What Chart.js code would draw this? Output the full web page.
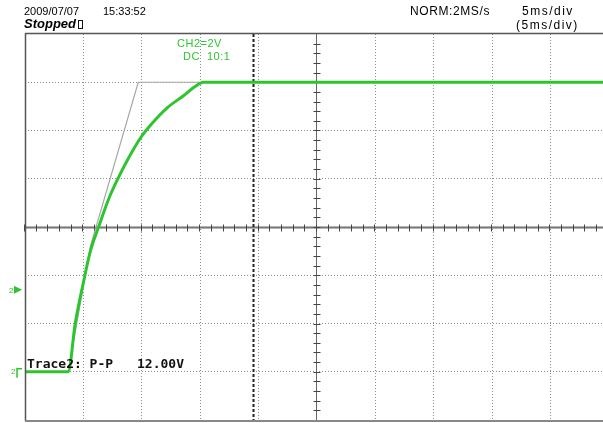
<!DOCTYPE html>
<html lang="en">
<head>
<meta charset="UTF-8">
<title>CH2 step response</title>
<script src="https://cdn.jsdelivr.net/npm/chart.js"></script>
<style>
  html, body { margin: 0; padding: 0; background: #fff; overflow: hidden; }
  canvas { display: block; }
</style>
</head>
<body>
<canvas id="scope" width="603" height="423"></canvas>
<script>
// CH2 trace: time in ms (5 ms/div, 0 = screen centre), volts (2 V/div)
const traceTime  = [-25, -21.3, -20.7, -20.0, -19.4, -18.7, -17.8, -17.0, -16.2, -15.1, -14.2, -12.8, -11.4, -10.5, -9.7, 25];
const traceVolts = [0, 0, 2.0, 3.7, 5.0, 6.0, 7.2, 8.05, 8.8, 9.7, 10.25, 10.95, 11.45, 11.8, 12.0, 12.0];
// grey reference ramp
const refTime  = [-21.3, -19.4, -15.3, 25];
const refVolts = [0, 5.2, 12, 12];
// division lines
const timeTicks = [-25, -20, -15, -10, -5, 0, 5, 10, 15, 20];
const voltTicks = [-2, 0, 2, 4, 6, 8, 10, 12, 14];
const cursorTime = -5.5;
const trigLevel = 3.4;
const groundLevel = 0;

const GREEN = '#2ec42e';
const GRID = '#8c8c8c';

function pts(xs, ys) { return xs.map((x, i) => ({ x: x, y: ys[i] })); }

const scopeDecor = {
    id: 'scopeDecor',
    beforeDatasetsDraw(chart) {
        const { ctx, chartArea: a, scales: { x, y } } = chart;
        const x0 = Math.round(x.getPixelForValue(0)) - 0.5;
        const y0 = Math.round(y.getPixelForValue(6)) + 0.5;
        ctx.save();
        // centre horizontal axis
        ctx.strokeStyle = '#b4b4b4';
        ctx.lineWidth = 3;
        ctx.beginPath(); ctx.moveTo(a.left, y0); ctx.lineTo(a.right, y0); ctx.stroke();
        ctx.strokeStyle = '#777';
        ctx.lineWidth = 1;
        ctx.beginPath(); ctx.moveTo(a.left, y0); ctx.lineTo(a.right, y0); ctx.stroke();
        // centre vertical axis
        ctx.strokeStyle = '#666';
        ctx.beginPath(); ctx.moveTo(x0, a.top); ctx.lineTo(x0, a.bottom); ctx.stroke();
        // minor ticks
        ctx.strokeStyle = '#444';
        ctx.beginPath();
        for (let t = -25; t <= 25; t += 1) {
            const px = Math.round(x.getPixelForValue(t)) - 0.5;
            ctx.moveTo(px, y0 - 3); ctx.lineTo(px, y0 + 4);
        }
        for (let v = -2; v <= 14; v += 0.4) {
            const py = Math.round(y.getPixelForValue(v)) + 0.5;
            ctx.moveTo(x0 - 3, py); ctx.lineTo(x0 + 4, py);
        }
        ctx.stroke();
        // time cursor
        const xc = Math.round(x.getPixelForValue(cursorTime)) + 0.5;
        ctx.strokeStyle = '#222';
        ctx.lineWidth = 2;
        ctx.setLineDash([3, 2]);
        ctx.beginPath(); ctx.moveTo(xc, a.top); ctx.lineTo(xc, a.bottom); ctx.stroke();
        ctx.restore();
    },
    afterDraw(chart) {
        const { ctx, chartArea: a, scales: { y } } = chart;
        ctx.save();
        // frame
        ctx.strokeStyle = '#555';
        ctx.lineWidth = 1.5;
        ctx.beginPath();
        ctx.moveTo(a.left + 0.5, a.top - 1); ctx.lineTo(a.left + 0.5, a.bottom + 1);
        ctx.moveTo(a.left, a.top - 0.5); ctx.lineTo(a.right, a.top - 0.5);
        ctx.stroke();
        ctx.strokeStyle = '#888';
        ctx.lineWidth = 2;
        ctx.beginPath(); ctx.moveTo(a.left, a.bottom + 1); ctx.lineTo(a.right, a.bottom + 1); ctx.stroke();

        // header texts
        ctx.fillStyle = '#000';
        ctx.textBaseline = 'alphabetic';
        ctx.font = '11px "Liberation Sans"';
        ctx.fillText('2009/07/07', 24, 15);
        ctx.fillText('15:33:52', 103, 15);
        ctx.font = 'italic bold 13px "Liberation Sans"';
        ctx.fillText('Stopped', 24, 28);
        ctx.lineWidth = 1;
        ctx.strokeStyle = '#111';
        ctx.strokeRect(78.5, 20.5, 4, 8);
        ctx.font = '12px "Liberation Sans"';
        ctx.letterSpacing = '0.6px';
        ctx.fillText('NORM:2MS/s', 410, 15);
        ctx.letterSpacing = '1.5px';
        ctx.fillText('5ms/div', 522, 15);
        ctx.fillText('(5ms/div)', 516, 29);
        ctx.letterSpacing = '0px';

        // channel setting
        ctx.fillStyle = GREEN;
        ctx.font = '11px "Liberation Sans"';
        ctx.letterSpacing = '0.5px';
        ctx.fillText('CH2=2V', 177, 47);
        ctx.fillText('DC', 183, 60);
        ctx.fillText('10:1', 207, 60);
        ctx.letterSpacing = '0px';

        // measurement
        ctx.fillStyle = '#111';
        ctx.font = 'bold 13px "DejaVu Sans Mono"';
        ctx.fillText('Trace2: P-P', 27, 368);
        ctx.fillText('12.00V', 137, 368);

        // channel markers on the left
        const yt = y.getPixelForValue(trigLevel);
        const yg = y.getPixelForValue(groundLevel);
        ctx.fillStyle = GREEN;
        ctx.strokeStyle = GREEN;
        ctx.font = '8px "Liberation Sans"';
        ctx.fillText('2', 9, yt + 3);
        ctx.beginPath();
        ctx.moveTo(14, yt - 4); ctx.lineTo(22, yt); ctx.lineTo(14, yt + 4); ctx.closePath();
        ctx.fill();
        ctx.fillText('2', 11, yg + 2);
        ctx.lineWidth = 1.5;
        ctx.beginPath();
        ctx.moveTo(17, yg - 4); ctx.lineTo(17, yg + 6);
        ctx.moveTo(17, yg - 3); ctx.lineTo(22, yg - 3);
        ctx.stroke();
        ctx.restore();
    }
};

new Chart(document.getElementById('scope'), {
    type: 'line',
    data: {
        datasets: [
            {
                label: 'CH2',
                data: pts(traceTime, traceVolts),
                borderColor: GREEN,
                borderWidth: 3,
                pointRadius: 0,
                cubicInterpolationMode: 'monotone',
                fill: false
            },
            {
                label: 'Ref',
                data: pts(refTime, refVolts),
                borderColor: '#a6a6a6',
                borderWidth: 1.2,
                pointRadius: 0,
                tension: 0,
                fill: false
            }
        ]
    },
    options: {
        responsive: false,
        animation: false,
        events: [],
        layout: { padding: { left: 25, top: 34, right: 0, bottom: 3 } },
        plugins: { legend: { display: false }, tooltip: { enabled: false } },
        scales: {
            x: {
                type: 'linear',
                min: -25,
                max: 24.5,
                afterBuildTicks: s => { s.ticks = timeTicks.map(v => ({ value: v })); },
                ticks: { display: false },
                border: { display: false, dash: [1, 2] },
                grid: {
                    drawTicks: false,
                    color: c => (c.tick && (c.tick.value === -25 || c.tick.value === 0)) ? 'rgba(0,0,0,0)' : GRID
                }
            },
            y: {
                type: 'linear',
                min: -2,
                max: 14,
                afterBuildTicks: s => { s.ticks = voltTicks.map(v => ({ value: v })); },
                ticks: { display: false },
                border: { display: false, dash: [1, 2] },
                grid: {
                    drawTicks: false,
                    color: c => (c.tick && (c.tick.value === -2 || c.tick.value === 14 || c.tick.value === 6)) ? 'rgba(0,0,0,0)' : GRID
                }
            }
        }
    },
    plugins: [scopeDecor]
});
</script>
</body>
</html>
